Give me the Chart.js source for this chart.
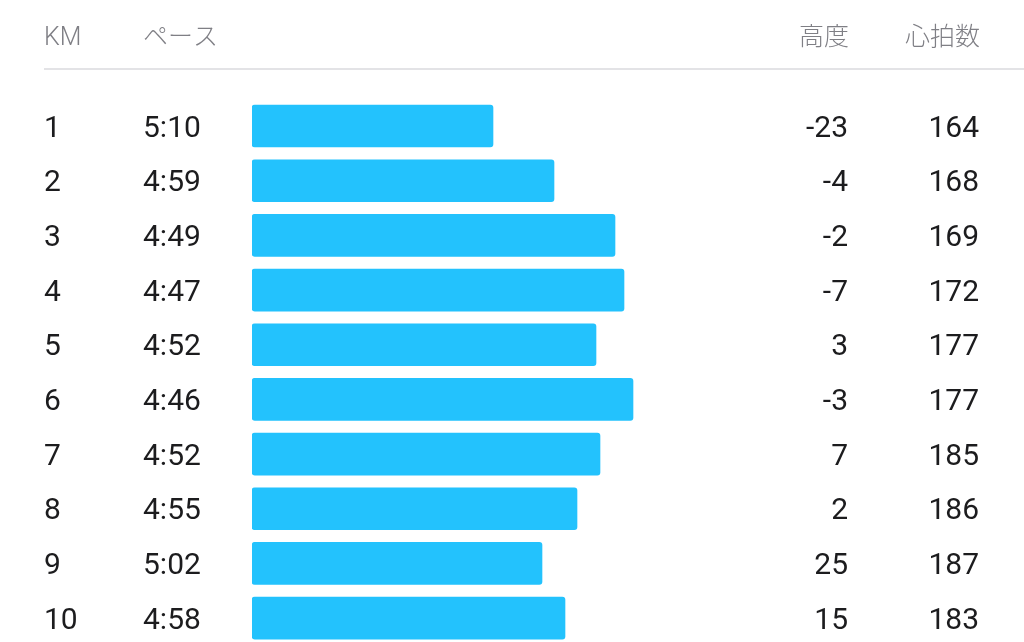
<!DOCTYPE html>
<html>
<head>
<meta charset="utf-8">
<script src="https://cdn.jsdelivr.net/npm/chart.js@4.4.1/dist/chart.umd.min.js"></script>
<style>
  html, body { margin: 0; padding: 0; background: #fff; }
  #wrap { width: 1024px; height: 642px; overflow: hidden; }
</style>
</head>
<body>
<div id="wrap"><canvas id="splitChart" width="1024" height="680"></canvas></div>
<script>
// split data
var kms = ["1", "2", "3", "4", "5", "6", "7", "8", "9", "10"];
var paces = ["5:10", "4:59", "4:49", "4:47", "4:52", "4:46", "4:52", "4:55", "5:02", "4:58"];
var barLength = [241, 302, 363, 372, 344, 381, 348, 325, 290, 313];
var elevation = [-23, -4, -2, -7, 3, -3, 7, 2, 25, 15];
var heartRate = [164, 168, 169, 172, 177, 177, 185, 186, 187, 183];
var headers = ["KM", "ペース", "高度", "心拍数"];

var rowFont = '30px Roboto, "Noto Sans CJK JP", sans-serif';
var headFont = '300 25px Roboto, "Noto Sans CJK JP", sans-serif';

var tableText = {
    id: 'tableText',
    afterDraw: function (chart) {
        var c = chart.ctx;
        var y = chart.scales.y;
        c.save();
        // header row
        c.font = headFont;
        c.fillStyle = '#7f7f85';
        c.textBaseline = 'middle';
        c.textAlign = 'left';
        c.fillText(headers[0], 44, 39);
        c.fillText(headers[1], 143, 39);
        c.textAlign = 'right';
        c.fillText(headers[2], 849, 39);
        c.fillText(headers[3], 980, 39);
        // separator
        c.strokeStyle = '#e3e3e6';
        c.lineWidth = 2;
        c.beginPath();
        c.moveTo(44, 69);
        c.lineTo(1024, 69);
        c.stroke();
        // rows
        c.font = rowFont;
        c.fillStyle = '#1c1c1e';
        for (var i = 0; i < kms.length; i++) {
            var py = y.getPixelForValue(i) + 3;
            c.textAlign = 'left';
            c.fillText(kms[i], 44, py);
            c.fillText(paces[i], 143, py);
            c.textAlign = 'right';
            c.fillText(String(elevation[i]), 848, py);
            c.fillText(String(heartRate[i]), 979, py);
        }
        c.restore();
    }
};

var ctx = document.getElementById("splitChart").getContext('2d');
var splitChart = new Chart(ctx, {
    type: 'bar',
    data: {
        labels: kms,
        datasets: [{
            label: "ペース",
            data: barLength,
            backgroundColor: '#23c2fd',
            borderRadius: 3,
            borderSkipped: false,
            barThickness: 42
        }]
    },
    options: {
        indexAxis: 'y',
        responsive: false,
        animation: false,
        layout: {
            padding: { left: 252, right: 372, top: 98.7, bottom: 34.6 }
        },
        scales: {
            x: { display: false, min: 0, max: 400 },
            y: { display: false }
        },
        plugins: {
            legend: { display: false },
            tooltip: { enabled: false }
        }
    },
    plugins: [tableText]
});
</script>
</body>
</html>
